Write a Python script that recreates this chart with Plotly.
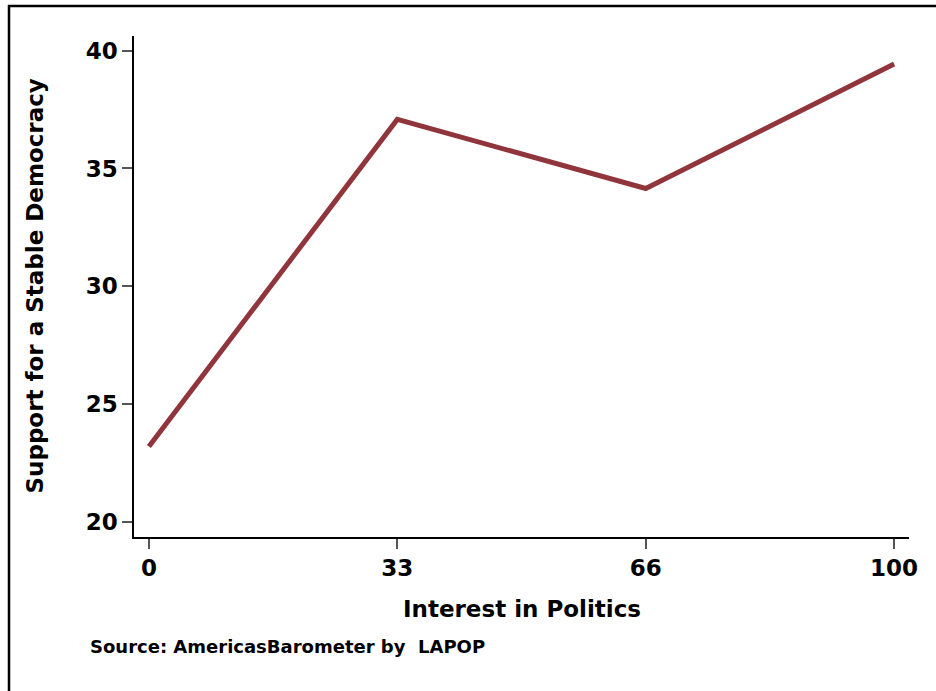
import plotly.graph_objects as go

# Data
interest_levels = [0, 33.33, 66.67, 100]
tick_labels = ["0", "33", "66", "100"]
support_values = [23.2, 37.08, 34.15, 39.43]
y_ticks = [20, 25, 30, 35, 40]

line_color = "rgb(144,53,59)"
font_family = "DejaVu Sans, Liberation Sans, Arial, sans-serif"

fig = go.Figure()
fig.add_trace(go.Scatter(
    x=interest_levels, y=support_values, mode="lines",
    line=dict(color=line_color, width=5),
    showlegend=False, hoverinfo="skip",
))

fig.update_layout(
    width=936, height=691,
    margin=dict(l=134, r=27, t=36, b=154),
    paper_bgcolor="white", plot_bgcolor="white",
    font=dict(family=font_family, color="black"),
    xaxis=dict(
        range=[-2, 102], tickmode="array", tickvals=interest_levels, ticktext=tick_labels,
        showgrid=False, zeroline=False, showline=True, linecolor="black", linewidth=1.5,
        ticks="outside", ticklen=10, tickwidth=1.5, tickcolor="#555",
        tickfont=dict(size=23, family=font_family, color="black", weight="bold"),
    ),
    yaxis=dict(
        range=[19.36, 40.62], tickmode="array", tickvals=y_ticks,
        showgrid=False, zeroline=False, showline=True, linecolor="black", linewidth=1.5,
        ticks="outside", ticklen=10, tickwidth=1.5, tickcolor="#555",
        tickfont=dict(size=23, family=font_family, color="black", weight="bold"),
    ),
    annotations=[
        dict(text="<b>Support for a Stable Democracy</b>", xref="paper", yref="paper",
             x=(34 - 134) / 775, y=0.5, textangle=-90, showarrow=False,
             xanchor="center", yanchor="middle", font=dict(size=23, family=font_family)),
        dict(text="<b>Interest in Politics</b>", xref="paper", yref="paper",
             x=0.5, y=(537 - 609) / 501, showarrow=False,
             xanchor="center", yanchor="middle", font=dict(size=23, family=font_family)),
        dict(text="<b>Source: AmericasBarometer by \u00a0LAPOP</b>", xref="paper", yref="paper",
             x=(88 - 134) / 775, y=(537 - 646) / 501, showarrow=False,
             xanchor="left", yanchor="middle", font=dict(size=18, family=font_family)),
    ],
    shapes=[
        dict(type="line", xref="paper", yref="paper",
             x0=(8 - 134) / 775, x1=(940 - 134) / 775, y0=(537 - 6) / 501, y1=(537 - 6) / 501,
             line=dict(color="black", width=2.5)),
        dict(type="line", xref="paper", yref="paper",
             x0=(9 - 134) / 775, x1=(9 - 134) / 775, y0=(537 - 5) / 501, y1=(537 - 700) / 501,
             line=dict(color="black", width=2.5)),
    ],
)

fig.write_html("out.html", config={"displayModeBar": False},
               post_script="document.body.style.margin='0px';")
